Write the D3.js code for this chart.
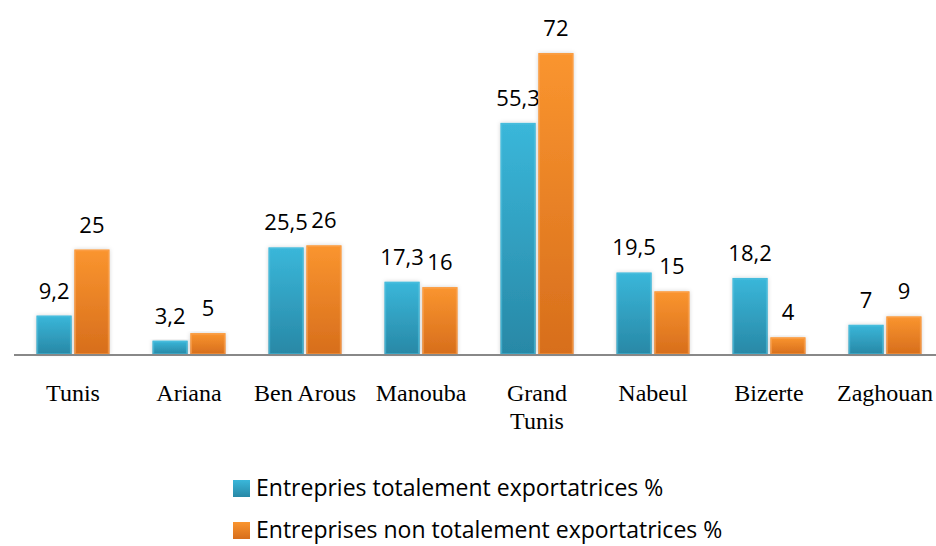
<!DOCTYPE html>
<html>
<head>
<meta charset="utf-8">
<script src="https://cdn.jsdelivr.net/npm/d3@7"></script>
<style>
  html, body { margin: 0; padding: 0; background: #fff; }
  svg { display: block; }
</style>
</head>
<body>
<svg id="chart" width="936" height="546"></svg>
<script>
// Regional share of firms, by governorate
const categories = ["Tunis", "Ariana", "Ben Arous", "Manouba", "Grand Tunis", "Nabeul", "Bizerte", "Zaghouan"];
const totalementExport = [9.2, 3.2, 25.5, 17.3, 55.3, 19.5, 18.2, 7];
const nonTotalementExport = [25, 5, 26, 16, 72, 15, 4, 9];
const seriesNames = ["Entrepries totalement exportatrices %", "Entreprises non totalement exportatrices %"];

const svg = d3.select("#chart");
const baseY = 354;

const x0 = d3.scaleBand().domain(categories).range([15, 943]).paddingInner(0.37).paddingOuter(0.185);
const x1 = d3.scaleBand().domain([0, 1]).range([0, x0.bandwidth()]).paddingInner(0.07);
const y = d3.scaleLinear().domain([0, 80]).range([baseY, 19.6]);

// Gradients and soft shadow for the bars
const defs = svg.append("defs");
const palettes = [
  { id: "gBlue", top: "#3AB7DA", bottom: "#2888A6", edge: "#52C2E0" },
  { id: "gOrange", top: "#FA952F", bottom: "#D76E1C", edge: "#FBA451" }
];
palettes.forEach(p => {
  const g = defs.append("linearGradient").attr("id", p.id).attr("x1", 0).attr("y1", 0).attr("x2", 0).attr("y2", 1);
  g.append("stop").attr("offset", "0%").attr("stop-color", p.top);
  g.append("stop").attr("offset", "100%").attr("stop-color", p.bottom);
});
const f = defs.append("filter").attr("id", "shadow").attr("x", "-30%").attr("y", "-10%").attr("width", "160%").attr("height", "120%");
f.append("feDropShadow").attr("dx", 0).attr("dy", 0).attr("stdDeviation", 2).attr("flood-color", "#000").attr("flood-opacity", 0.18);

const data = categories.map((c, i) => ({ cat: c, vals: [totalementExport[i], nonTotalementExport[i]] }));

const groups = svg.append("g").selectAll("g").data(data).join("g")
  .attr("transform", d => `translate(${x0(d.cat)},0)`);

const bars = groups.selectAll("g.bar").data(d => d.vals.map((v, s) => ({ v, s }))).join("g").attr("class", "bar");

bars.append("rect")
  .attr("x", d => x1(d.s))
  .attr("y", d => y(d.v))
  .attr("width", x1.bandwidth())
  .attr("height", d => baseY - y(d.v))
  .attr("fill", d => `url(#${palettes[d.s].id})`)
  .attr("filter", "url(#shadow)");

// lighter bevel along the bar sides
bars.append("rect")
  .attr("x", d => x1(d.s) + 1)
  .attr("y", d => y(d.v) + 1)
  .attr("width", x1.bandwidth() - 2)
  .attr("height", d => Math.max(0, baseY - y(d.v) - 1))
  .attr("fill", "none")
  .attr("stroke", d => palettes[d.s].edge)
  .attr("stroke-opacity", 0.6)
  .attr("stroke-width", 1.5);

// value labels
bars.append("text")
  .attr("x", d => x1(d.s) + x1.bandwidth() / 2)
  .attr("y", d => y(d.v) - 17)
  .attr("text-anchor", "middle")
  .attr("font-family", "'Open Sans', sans-serif")
  .attr("font-size", 22)
  .attr("fill", "#000")
  .text(d => String(d.v).replace(".", ","));

// baseline
svg.append("line")
  .attr("x1", 14).attr("x2", 936)
  .attr("y1", baseY + 1).attr("y2", baseY + 1)
  .attr("stroke", "#888").attr("stroke-width", 2);

// category labels (wrapped onto two lines where needed)
const catLines = { "Grand Tunis": ["Grand", "Tunis"] };
const labels = svg.append("g").selectAll("text").data(categories).join("text")
  .attr("x", c => x0(c) + x0.bandwidth() / 2)
  .attr("y", 401)
  .attr("text-anchor", "middle")
  .attr("font-family", "'Liberation Serif', serif")
  .attr("font-size", 24)
  .attr("fill", "#000");
labels.each(function (c) {
  const lines = catLines[c] || [c];
  const t = d3.select(this);
  lines.forEach((ln, i) => {
    t.append("tspan").attr("x", x0(c) + x0.bandwidth() / 2).attr("dy", i === 0 ? 0 : 28).text(ln);
  });
});

// legend
const legend = svg.append("g").selectAll("g").data(seriesNames).join("g")
  .attr("transform", (d, i) => `translate(233,${488 + i * 42})`);
legend.append("rect")
  .attr("x", 0).attr("y", -8).attr("width", 17).attr("height", 17)
  .attr("fill", (d, i) => `url(#${palettes[i].id})`);
legend.append("text")
  .attr("x", 23).attr("y", 0).attr("dy", "0.35em")
  .attr("font-family", "'Open Sans', sans-serif")
  .attr("font-size", 23)
  .attr("fill", "#000")
  .text(d => d);
</script>
</body>
</html>
